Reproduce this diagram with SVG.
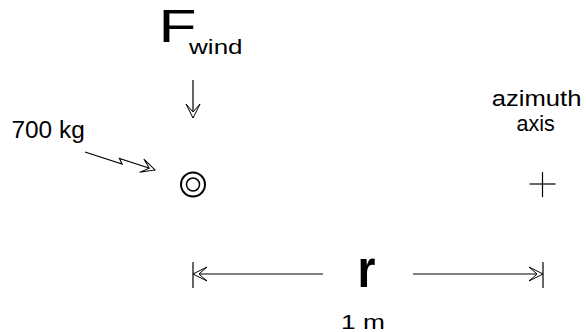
<svg xmlns="http://www.w3.org/2000/svg" width="586" height="332" viewBox="0 0 586 332">
<style>
.t{font-family:"Liberation Sans",Arial,sans-serif;fill:#000}
.ln{stroke:#000;stroke-width:1.2;fill:none}
.arr{marker-end:url(#ah)}
</style>
<defs>
<marker id="ah" markerUnits="userSpaceOnUse" markerWidth="16" markerHeight="16" refX="14" refY="7" orient="auto-start-reverse" overflow="visible">
<path d="M0,0 L14,7 L0,14 L8,7 Z" fill="#fff" stroke="#000" stroke-width="1"/>
</marker>
</defs>
<rect width="586" height="332" fill="#fff"/>
<g id="label-fwind">
<text class="t" x="158.4" y="41.8" font-size="46" textLength="38" lengthAdjust="spacingAndGlyphs">F</text>
<text class="t" x="189.1" y="54" font-size="20.5" textLength="53.5" lengthAdjust="spacingAndGlyphs">wind</text>
</g>
<g id="label-mass">
<text class="t" x="11.5" y="138" font-size="23" textLength="73.2" lengthAdjust="spacingAndGlyphs">700 kg</text>
</g>
<g id="mass">
<circle cx="193" cy="184.5" r="12" fill="none" stroke="#000" stroke-width="2"/>
<circle cx="193" cy="184.5" r="6.5" fill="none" stroke="#000" stroke-width="1.5"/>
</g>
<g id="azimuth-axis">
<text class="t" x="491.8" y="105.7" font-size="21.5" textLength="89.6" lengthAdjust="spacingAndGlyphs">azimuth</text>
<text class="t" x="516.5" y="131" font-size="21.5">axis</text>
<line class="ln" x1="529.5" y1="184" x2="555.5" y2="184"/>
<line class="ln" x1="542.5" y1="172" x2="542.5" y2="197"/>
</g>
<g id="dimension">
<line class="ln" x1="193" y1="262" x2="193" y2="288"/>
<line class="ln" x1="543" y1="262" x2="543" y2="288"/>
<text class="t" x="357.6" y="287.3" font-size="54" font-weight="bold" textLength="17.9" lengthAdjust="spacingAndGlyphs">r</text>
<text class="t" x="341.1" y="329.3" font-size="21" textLength="43.8" lengthAdjust="spacingAndGlyphs">1 m</text>
</g>
<g id="connectors">
<line class="ln arr" x1="193" y1="80" x2="193" y2="118"/>
<polyline class="ln arr" points="85,152 122,164 119.5,158.5 155,170"/>
<line class="ln" x1="323" y1="274" x2="193" y2="274" style="marker-end:url(#ah)"/>
<line class="ln arr" x1="413" y1="274" x2="543" y2="274"/>
</g>
</svg>
